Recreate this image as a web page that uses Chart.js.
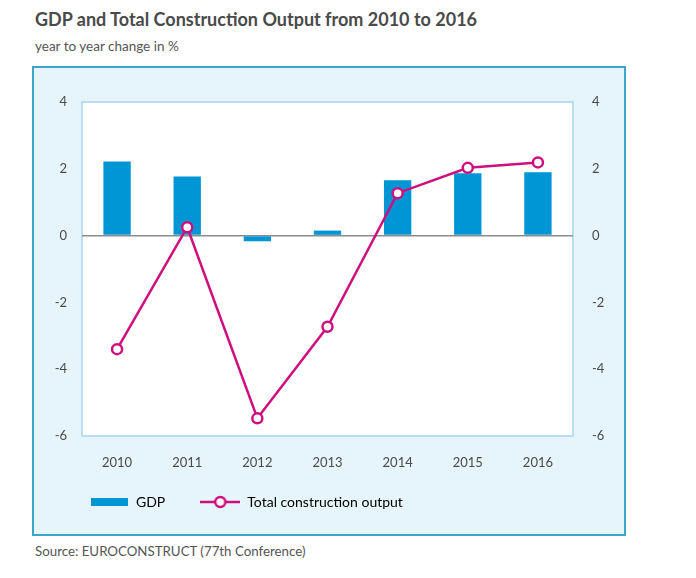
<!DOCTYPE html>
<html>
<head>
<meta charset="utf-8">
<script src="https://cdn.jsdelivr.net/npm/chart.js@4.4.0/dist/chart.umd.min.js"></script>
<style>
  body { margin: 0; background: #fff; width: 696px; height: 578px; position: relative; overflow: hidden;
         font-family: Lato, "Noto Sans", sans-serif; }
  #title { position: absolute; left: 35px; top: 8px; font-size: 18px; font-weight: bold; color: #4a4a4a; white-space: nowrap; }
  #sub { position: absolute; left: 35px; top: 38px; font-size: 13.5px; color: #555; }
  #box { position: absolute; left: 32px; top: 66px; width: 590px; height: 466px;
         border: 2px solid #3ba5ca; background: #e6f4fc; }
  #source { position: absolute; left: 35px; top: 543px; font-size: 13.3px; color: #555; }
</style>
</head>
<body>
<div id="title">GDP and Total Construction Output from 2010 to 2016</div>
<div id="sub">year to year change in %</div>
<div id="box"><canvas id="myChart"></canvas></div>
<div id="source">Source: EUROCONSTRUCT (77th Conference)</div>

<script>
// the data

const years = ['2010', '2011', '2012', '2013', '2014', '2015', '2016']
const gdp = [2.22, 1.77, -0.17, 0.15, 1.66, 1.87, 1.90]
const construction = [-3.40, 0.25, -5.47, -2.73, 1.27, 2.03, 2.19]
const yTicks = [-6, -4, -2, 0, 2, 4]

const barColor = '#0096d6'
const lineColor = '#cf0f7d'
const textColor = '#4a4a4a'

Chart.defaults.font.family = "Lato, 'Noto Sans', sans-serif"
Chart.defaults.color = textColor

// legend marks
const gdpMark = document.createElement('canvas')
gdpMark.width = 37
gdpMark.height = 8
let g = gdpMark.getContext('2d')
g.fillStyle = barColor
g.fillRect(0, 0, 37, 8)

const lineMark = document.createElement('canvas')
lineMark.width = 40
lineMark.height = 14
g = lineMark.getContext('2d')
g.strokeStyle = lineColor
g.lineWidth = 2.5
g.beginPath()
g.moveTo(0, 7)
g.lineTo(40, 7)
g.stroke()
g.fillStyle = '#fff'
g.beginPath()
g.arc(20, 7, 5, 0, Math.PI * 2)
g.fill()
g.stroke()

// white plot area with a light frame, legend nudged into place
const plotFrame = {
    id: 'plotFrame',
    afterLayout(chart) {
        chart.legend.left = 20
        chart.legend.top = 392
    },
    beforeDraw(chart) {
        const {ctx, chartArea: a} = chart
        ctx.save()
        ctx.fillStyle = '#fff'
        ctx.fillRect(a.left, a.top, a.right - a.left, a.bottom - a.top)
        ctx.strokeStyle = '#a6d6ec'
        ctx.lineWidth = 1.5
        ctx.strokeRect(a.left, a.top, a.right - a.left, a.bottom - a.top)
        ctx.restore()
    }
}

const tickFont = {size: 13}

const ctx = document.querySelector('#myChart').getContext('2d')

let chart = new Chart(ctx, {
    type: 'bar',
    data: {
        labels: years,
        datasets: [{
            type: 'line',
            label: 'Total construction output',
            data: construction,
            yAxisID: 'y',
            borderColor: lineColor,
            borderWidth: 2.5,
            pointRadius: 5,
            pointBorderWidth: 2.5,
            pointBackgroundColor: '#fff',
            pointBorderColor: lineColor,
            tension: 0,
            order: 0
        }, {
            type: 'bar',
            label: 'GDP',
            data: gdp,
            yAxisID: 'y',
            backgroundColor: barColor,
            barPercentage: 0.39,
            categoryPercentage: 1,
            order: 1
        }]
    },
    options: {
        responsive: true,
        maintainAspectRatio: false,
        animation: false,
        layout: {padding: {top: 34, left: 0, right: 0, bottom: 0}},
        scales: {
            x: {
                grid: {display: false},
                border: {display: false},
                ticks: {font: tickFont, padding: 11, color: textColor},
                afterFit: s => { s.height = 40 }
            },
            y: {
                position: 'left',
                min: -6, max: 4,
                afterBuildTicks: s => { s.ticks = yTicks.map(v => ({value: v})) },
                grid: {
                    drawTicks: false,
                    lineWidth: 1.5,
                    color: c => c.tick && c.tick.value === 0 ? '#8c8c8c' : 'transparent'
                },
                border: {display: false},
                ticks: {font: tickFont, padding: 15, color: textColor},
                afterFit: s => { s.width = 48 }
            },
            y1: {
                position: 'right',
                min: -6, max: 4,
                afterBuildTicks: s => { s.ticks = yTicks.map(v => ({value: v})) },
                grid: {display: false, drawTicks: false},
                border: {display: false},
                ticks: {font: tickFont, padding: 19, color: textColor},
                afterFit: s => { s.width = 51 }
            }
        },
        plugins: {
            tooltip: {enabled: false},
            legend: {
                position: 'bottom',
                align: 'start',
                maxHeight: 58,
                labels: {
                    usePointStyle: true,
                    pointStyleWidth: 40,
                    padding: 35,
                    font: {size: 14},
                    color: textColor,
                    generateLabels: () => [
                        {text: 'GDP', pointStyle: gdpMark, fillStyle: barColor, strokeStyle: barColor, lineWidth: 0, hidden: false, datasetIndex: 1},
                        {text: 'Total construction output', pointStyle: lineMark, fillStyle: '#fff', strokeStyle: lineColor, lineWidth: 0, hidden: false, datasetIndex: 0}
                    ]
                }
            }
        }
    },
    plugins: [plotFrame]
})
</script>
</body>
</html>
